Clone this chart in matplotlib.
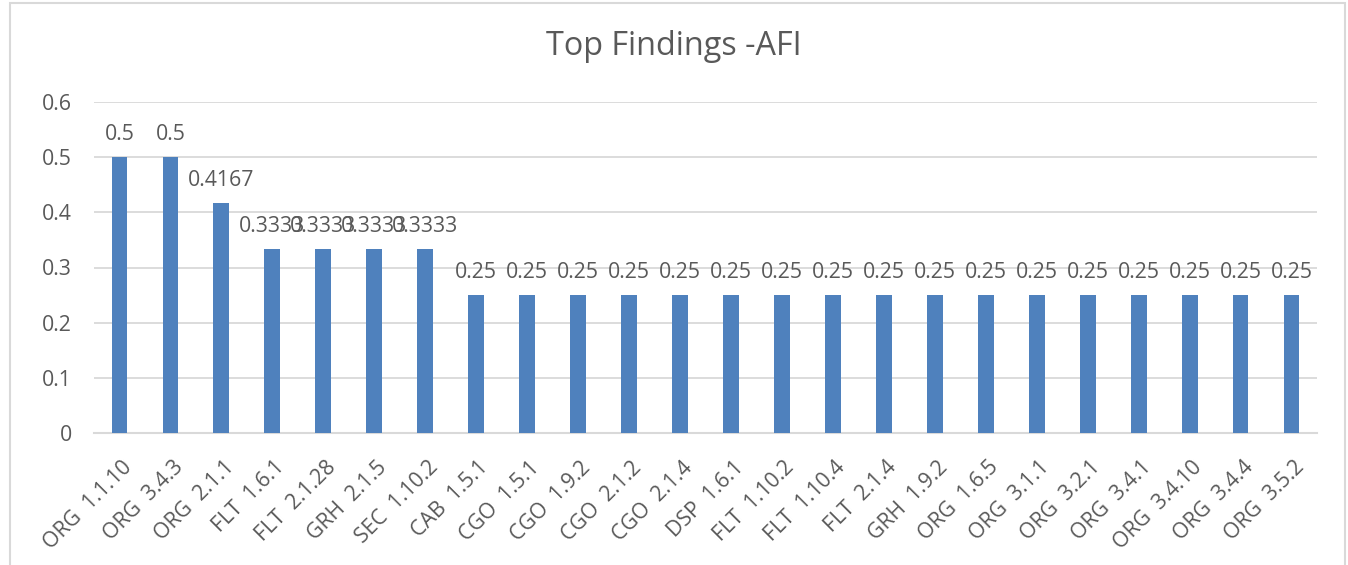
import numpy as np
import matplotlib
matplotlib.use('Agg')
import matplotlib.pyplot as plt
from matplotlib.patches import Rectangle

categories = ['ORG  1.1.10', 'ORG  3.4.3', 'ORG  2.1.1', 'FLT  1.6.1', 'FLT  2.1.28',
              'GRH  2.1.5', 'SEC  1.10.2', 'CAB  1.5.1', 'CGO  1.5.1', 'CGO  1.9.2',
              'CGO  2.1.2', 'CGO  2.1.4', 'DSP  1.6.1', 'FLT  1.10.2', 'FLT  1.10.4',
              'FLT  2.1.4', 'GRH  1.9.2', 'ORG  1.6.5', 'ORG  3.1.1', 'ORG  3.2.1',
              'ORG  3.4.1', 'ORG  3.4.10', 'ORG  3.4.4', 'ORG  3.5.2']
values = [0.5, 0.5, 0.4167, 0.3333, 0.3333, 0.3333, 0.3333] + [0.25] * 17
value_labels = ['0.5', '0.5', '0.4167', '0.3333', '0.3333', '0.3333', '0.3333'] + ['0.25'] * 17
yticks = [0, 0.1, 0.2, 0.3, 0.4, 0.5, 0.6]
ytick_labels = ['0', '0.1', '0.2', '0.3', '0.4', '0.5', '0.6']
title = 'Top Findings -AFI'

plt.rcParams['font.family'] = ['Open Sans', 'DejaVu Sans']
txt = '#595959'
grid = '#d9d9d9'
bar_c = '#4f81bd'
fs = 15.3

fig = plt.figure(figsize=(13.48, 5.65), dpi=100)
fig.patches.append(Rectangle((10 / 1348, -0.2), 1335 / 1348, 1.2 - 3 / 565,
                             transform=fig.transFigure, fill=False,
                             edgecolor=grid, lw=1.5))
ax = fig.add_axes([94 / 1348, 1 - 433 / 565, 1223 / 1348, 331 / 565])

x = np.arange(len(categories))
ax.bar(x, values, width=0.31, color=bar_c, zorder=3)
for xi, v, lab in zip(x, values, value_labels):
    ax.annotate(lab, (xi, v), xytext=(0, 12), textcoords='offset points',
                ha='center', va='baseline', fontsize=fs, color=txt, zorder=4)

ax.set_xlim(-0.5, len(categories) - 0.5)
ax.set_ylim(0, 0.6)
ax.set_yticks(yticks)
ax.set_yticklabels(ytick_labels, fontsize=fs, color=txt)
ax.set_xticks(x)
ax.set_xticklabels([])
# rotated category labels, end of text just right of and below each tick
for xi, cat in zip(x, categories):
    ax.annotate(cat, (xi, 0), xycoords=('data', 'axes fraction'),
                xytext=(5.5, -21.3), textcoords='offset points',
                rotation=45, rotation_mode='anchor', ha='right',
                va='center_baseline', fontsize=fs, color=txt,
                annotation_clip=False)

ax.yaxis.grid(True, color=grid, lw=1.3, zorder=0)
ax.tick_params(axis='both', length=0)
ax.tick_params(axis='y', pad=16)
for s in ['top', 'right', 'left']:
    ax.spines[s].set_visible(False)
ax.spines['bottom'].set_color(grid)
ax.spines['bottom'].set_linewidth(1.5)

fig.text(0.5, 1 - 55 / 565, title, ha='center', va='baseline', fontsize=23.3, color=txt)

fig.savefig('out.png', dpi=100)
